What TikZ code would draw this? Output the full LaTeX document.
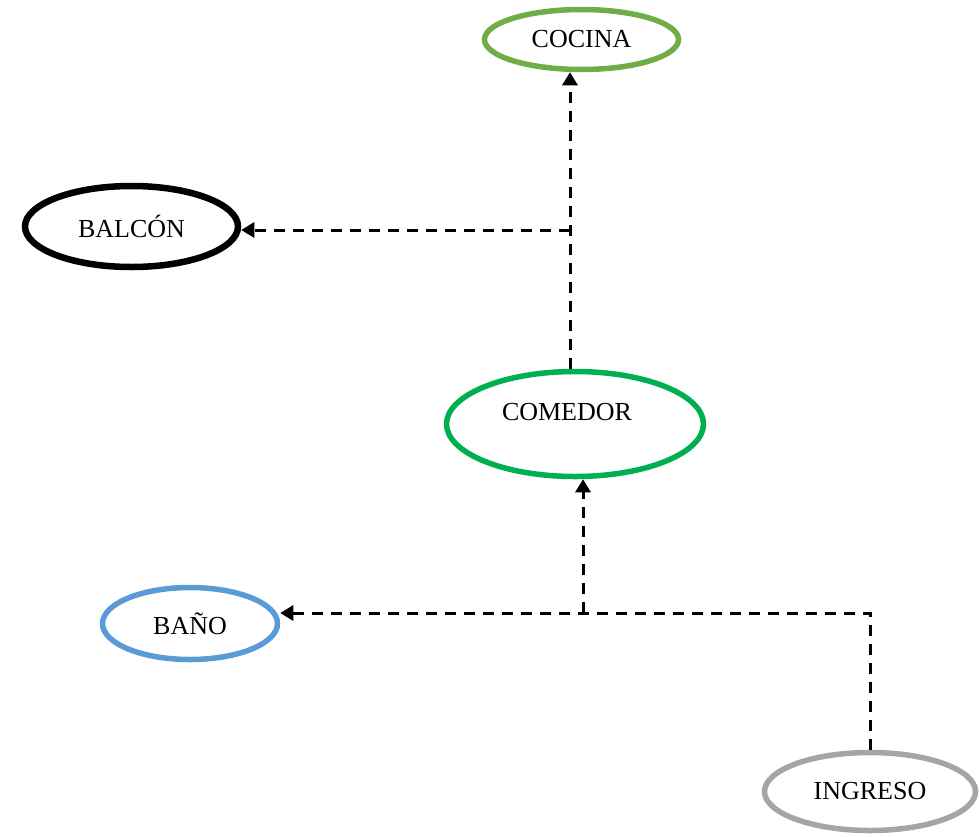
\documentclass[tikz,border=0pt]{standalone}
\usepackage{fontspec}
\setmainfont{Liberation Serif}
\usetikzlibrary{arrows.meta}
\usetikzlibrary{shapes.geometric}

\definecolor{cocinacolor}{HTML}{70AD47}
\definecolor{comedorcolor}{HTML}{00B050}
\definecolor{banocolor}{HTML}{5B9BD5}
\definecolor{ingresocolor}{HTML}{A5A5A5}

\begin{document}
\begin{tikzpicture}[
	x=1pt, y=-1pt,
	every node/.style={font=\fontsize{26}{30}\selectfont},
	room/.style={ellipse, draw=#1, line width=5.5pt, inner sep=0pt},
	link/.style={black, line width=3pt, dash pattern=on 11pt off 8pt,
		-{Triangle[length=13pt, width=15pt]}}
]
\useasboundingbox (0,0) rectangle (979,836);

\node[room=cocinacolor, minimum width=194pt, minimum height=60pt] (cocina) at (581.5,39.5) {COCINA};
\node[room=black, line width=6.5pt, minimum width=213pt, minimum height=81pt] (balcon) at (131.5,226.5) {BALCÓN};
\node[room=comedorcolor, minimum width=257pt, minimum height=105pt,
	label={[xshift=-8pt, yshift=12pt]center:COMEDOR}] (comedor) at (575,424) {};
\node[room=banocolor, minimum width=175pt, minimum height=72pt] (bano) at (190,623.5) {BAÑO};
\node[room=ingresocolor, minimum width=211pt, minimum height=78pt] (ingreso) at (870,791.5) {INGRESO};

\coordinate (spine) at (570,230);
\coordinate (hub) at (583,613);
\coordinate (corner) at (870,613);

\draw[link] (spine |- comedor.north) -- (spine |- cocina.south);
\draw[link] (spine) -- (spine -| balcon.east);
\draw[link] (ingreso.north) -- (corner) -- (corner -| bano.east);
\draw[link] (hub) -- (hub |- comedor.south);
\end{tikzpicture}
\end{document}
